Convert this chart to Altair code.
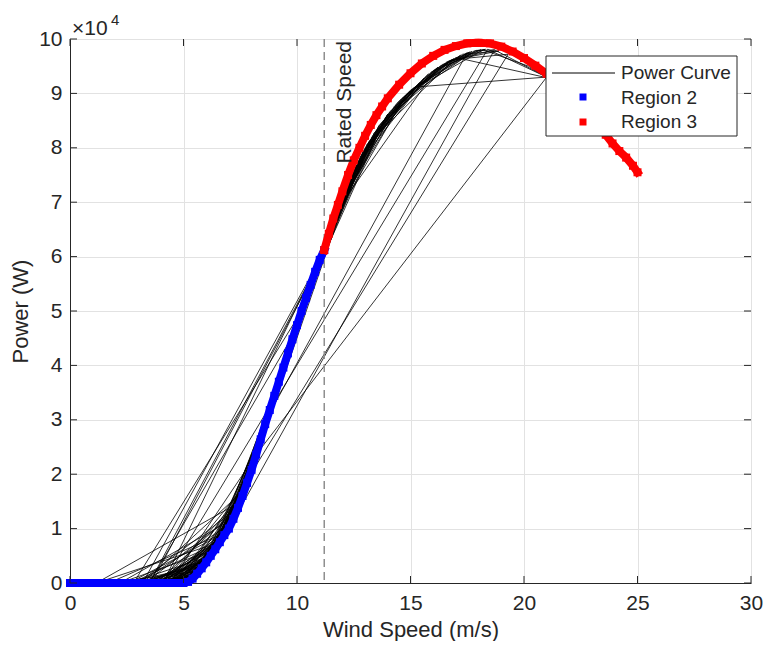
import altair as alt
import pandas as pd

# ---------------- data ----------------
x_ticks = [0, 5, 10, 15, 20, 25, 30]
y_ticks = [0, 1, 2, 3, 4, 5, 6, 7, 8, 9, 10]
rated_speed = 11.2

# Region 2 markers (wind m/s, power in 1e4 W)
r2_wind = [0.0, 0.5, 1.0, 1.5, 2.0, 2.5, 3.0, 3.5, 4.0, 4.5, 5.0, 5.2, 5.4, 5.6, 5.8,
           6.0, 6.2, 6.4, 6.6, 6.8, 7.0, 7.2, 7.4, 7.6, 7.8, 8.0, 8.2, 8.4, 8.6, 8.8,
           9.0, 9.2, 9.4, 9.6, 9.8, 10.0, 10.2, 10.4, 10.6, 10.8, 11.0, 11.2]
r2_power = [0, 0, 0, 0, 0, 0, 0, 0, 0, 0, 0, 0.02, 0.08, 0.17, 0.27,
            0.38, 0.5, 0.62, 0.75, 0.88, 1.0, 1.18, 1.38, 1.6, 1.84, 2.08, 2.36, 2.64, 2.92, 3.18,
            3.44, 3.7, 3.96, 4.22, 4.48, 4.74, 5.0, 5.24, 5.48, 5.72, 5.94, 6.12]

# Region 3 markers
r3_wind = [11.2, 11.4, 11.6, 11.8, 12.0, 12.25, 12.5, 12.75, 13.0, 13.25, 13.5, 13.75,
           14.0, 14.5, 15.0, 15.5, 16.0, 16.5, 17.0, 17.5, 18.0, 18.5, 19.0, 19.5,
           20.0, 20.5, 21.0, 21.5, 22.0, 22.5, 23.0, 23.3, 23.6, 23.9, 24.2, 24.5, 24.8, 25.0]
r3_power = [6.12, 6.42, 6.7, 6.95, 7.2, 7.5, 7.77, 8.0, 8.22, 8.42, 8.6, 8.76,
            8.91, 9.16, 9.37, 9.55, 9.69, 9.8, 9.87, 9.92, 9.93, 9.92, 9.86, 9.77,
            9.65, 9.51, 9.36, 9.18, 8.99, 8.78, 8.55, 8.4, 8.24, 8.08, 7.94, 7.82, 7.67, 7.55]

# Power curve time series (in time order)
pc_wind = [0.0, 0.7, 1.3, 2.1, 2.7, 3.4, 4.0, 4.8, 5.8, 3.9, 6.3, 4.4, 5.5, 2.9, 6.0, 7.0,
           4.7, 6.7, 5.1, 7.3, 3.3, 6.1, 4.2, 7.8, 5.9, 8.6, 6.5, 4.5, 5.7, 1.7, 6.9, 8.0,
           9.3, 7.4, 3.8, 6.6, 1.16, 7.5, 9.0, 10.4, 7.7, 3.2, 11.0, 12.4, 14.0, 11.8, 9.6,
           12.9, 15.6, 13.3, 10.8, 8.7, 17.5, 14.7, 12.1, 10.1, 8.2, 21.0, 15.3, 13.6, 11.4,
           9.8, 11.9, 16.2, 13.9, 10.6, 7.9, 19.3, 16.8, 14.4, 12.2, 9.4, 7.2, 5.3, 2.8,
           10.2, 12.8, 15.0, 17.9, 18.7, 21.1, 17.0, 13.1, 11.6, 9.1, 6.3, 4.9, 3.5, 5.6,
           7.6, 8.4, 10.9, 13.8, 16.4, 18.1, 15.9, 12.6, 10.5, 8.8, 18.4, 21.0, 20.2, 18.2,
           14.9, 12.0, 10.0, 7.0, 18.7, 16.6, 13.5, 11.3, 9.5, 6.8, 4.3, 6.2, 8.3, 10.7,
           12.3, 11.1, 9.9, 8.5, 6.4, 5.0, 3.7, 2.5, 1.5, 0.8, 0.0,
           2.3, 5.9, 3.6, 6.5, 4.6, 7.1, 3.0, 5.7, 4.1, 6.9, 2.6, 6.2, 4.9, 7.7, 5.4, 3.4,
           6.4, 8.1, 6.0, 4.4, 7.3, 9.2, 7.9, 5.6, 3.9, 6.7, 8.9, 10.3, 8.4, 6.6, 9.7, 11.5,
           13.2, 15.4, 12.7, 10.9, 12.5, 14.6, 16.9, 14.1, 11.7, 13.7, 17.2, 15.7, 13.4, 11.2,
           9.3, 7.5, 5.2, 3.1, 6.1, 8.0, 10.6, 12.9, 16.0, 18.3, 17.8, 14.3, 12.4, 10.1, 11.7,
           14.8, 17.7, 16.1, 13.0, 10.4, 8.6, 7.0, 5.8, 4.5, 2.0, 4.8, 6.8, 9.0, 11.9, 14.5,
           16.7, 18.9, 17.3, 15.2, 12.8, 10.7, 9.5, 11.5, 13.6, 15.8, 14.0, 12.2, 10.0, 8.3,
           7.2, 6.0, 5.0, 4.0, 5.5, 7.4, 9.4, 12.0, 13.4, 16.3, 17.6, 15.1, 13.1, 11.3, 9.7,
           8.1, 6.5, 4.7, 3.3, 2.4, 1.0, 0.0,
           3.6, 10.8, 8.9, 4.1, 11.1, 13.2, 9.9, 3.5, 10.9, 12.6, 7.7, 4.6, 6.3, 3.9, 7.0,
           5.5, 2.7, 6.6, 4.2, 5.9, 3.0, 7.4, 5.1, 6.9, 4.4, 8.2, 6.1, 3.7, 6.7, 5.3, 7.9,
           4.8, 6.4, 2.2, 7.2, 5.7, 8.5, 6.2, 4.0, 7.6, 9.1, 6.8, 5.4, 3.2, 6.0, 8.7, 10.1,
           7.3, 5.6, 4.3, 7.1, 9.8, 8.0, 6.5, 4.9, 3.4, 1.9, 0.9, 0.0]
pc_power = [0, 0, 0, 0, 0, 0, 0, 0, 0.27, 0, 0.56, 0, 0.12, 0, 0.38, 1.0,
            0, 0.82, 0, 1.28, 0, 0.44, 0, 1.84, 0.32, 2.92, 0.68, 0, 0.22, 0, 0.94, 2.08,
            3.83, 1.38, 0, 0.75, 0, 1.49, 3.44, 5.24, 1.72, 0, 5.94, 7.47, 8.62, 6.83, 4.22,
            7.92, 9.28, 8.2, 5.72, 3.05, 9.75, 8.94, 7.16, 4.87, 2.36, 9.3, 9.12, 8.4, 6.35,
            4.48, 6.94, 9.48, 8.56, 5.48, 1.96, 9.72, 9.62, 8.82, 7.27, 3.96, 1.18, 0.05, 0,
            5.0, 7.84, 9.06, 9.79, 9.8, 9.28, 9.66, 8.07, 6.6, 3.57, 0.56, 0, 0, 0.17,
            1.6, 2.64, 5.83, 8.5, 9.53, 9.8, 9.39, 7.66, 5.36, 3.18, 9.81, 9.3, 9.5, 9.8,
            9.02, 7.05, 4.74, 1.0, 9.8, 9.58, 8.33, 6.2, 4.09, 0.88, 0, 0.5, 2.5, 5.6,
            7.37, 6.03, 4.61, 2.78, 0.62, 0, 0, 0, 0, 0, 0,
            0, 0.32, 0, 0.68, 0, 1.09, 0, 0.22, 0, 0.94, 0, 0.5, 0, 1.72, 0.08, 0,
            0.62, 2.22, 0.38, 0, 1.28, 3.7, 1.96, 0.17, 0, 0.82, 3.31, 5.12, 2.64, 0.75, 4.35, 6.48,
            8.13, 9.2, 7.75, 5.83, 7.56, 8.9, 9.64, 8.67, 6.72, 8.45, 9.7, 9.31, 8.27, 6.12,
            3.83, 1.49, 0.02, 0, 0.44, 2.08, 5.48, 7.92, 9.42, 9.81, 9.78, 8.77, 7.47, 4.87, 6.72,
            8.98, 9.77, 9.45, 8.0, 5.24, 2.92, 1.0, 0.27, 0, 0, 0, 0.88, 3.44, 6.94, 8.86,
            9.6, 9.78, 9.72, 9.12, 7.84, 5.6, 4.09, 6.48, 8.4, 9.36, 8.62, 7.27, 4.74, 2.5,
            1.18, 0.38, 0, 0, 0.12, 1.38, 3.96, 7.05, 8.27, 9.5, 9.76, 9.09, 8.07, 6.2, 4.35,
            2.22, 0.68, 0, 0, 0, 0, 0,
            0, 5.72, 3.31, 0, 6.03, 8.13, 4.61, 0, 5.83, 7.66, 1.72, 0, 0.56, 0, 1.0,
            0.12, 0, 0.75, 0, 0.32, 0, 1.38, 0, 0.94, 0, 2.36, 0.44, 0, 0.82, 0.05, 1.96,
            0, 0.62, 0, 1.18, 0.22, 2.78, 0.5, 0, 1.6, 3.57, 0.88, 0.08, 0, 0.38, 3.05, 4.87,
            1.28, 0.17, 0, 1.09, 4.48, 2.08, 0.68, 0, 0, 0, 0, 0]

legend_labels = ["Power Curve", "Region 2", "Region 3"]

# ---------------- frames ----------------
pc_df = pd.DataFrame({"wind": pc_wind, "power": pc_power, "idx": list(range(len(pc_wind)))})
r2_df = pd.DataFrame({"wind": r2_wind, "power": r2_power})
r3_df = pd.DataFrame({"wind": r3_wind, "power": r3_power})

W, H = 681, 544
FONT = "Liberation Sans"
TXT = "#262626"

xs = alt.Scale(domain=[0, 30], nice=False, zero=False)
ys = alt.Scale(domain=[0, 10], nice=False, zero=False)

x_axis = alt.Axis(values=x_ticks, grid=True, ticks=False, labelFontSize=21, labelColor=TXT,
                  labelPadding=9, labelFlush=False, labelOverlap=False,
                  title="Wind Speed (m/s)", titleFontSize=22, titleBaseline="alphabetic",
                  titleY=53, titleFontWeight="normal", titleColor=TXT,
                  domainColor=TXT, gridColor="#e2e2e2", labelFont=FONT, titleFont=FONT)
y_axis = alt.Axis(values=y_ticks, grid=True, ticks=False, labelFontSize=21, labelColor=TXT,
                  labelPadding=8, labelFlush=False, labelOverlap=False,
                  title="Power (W)", titleFontSize=22,
                  titleFontWeight="normal", titleColor=TXT, titlePadding=6,
                  domainColor=TXT, gridColor="#e2e2e2", labelFont=FONT, titleFont=FONT)

X = alt.X("wind:Q", scale=xs, axis=x_axis)
Y = alt.Y("power:Q", scale=ys, axis=y_axis)

power_line = alt.Chart(pc_df).mark_line(color="black", strokeWidth=0.8).encode(
    x=X, y=Y, order="idx:Q")

rated_df = pd.DataFrame({"wind": [rated_speed], "label": ["Rated Speed"]})
rated_rule = alt.Chart(rated_df).mark_rule(color="#8f8f8f", strokeWidth=1.5,
                                           strokeDash=[8, 5]).encode(x=X)

rated_text = alt.Chart(rated_df).mark_text(angle=270, align="right", baseline="top",
                                           fontSize=21, font=FONT, color=TXT, dy=10).encode(
    x=X, y=alt.value(2), text="label:N")


def region(df, color):
    band = alt.Chart(df).mark_line(color=color, strokeWidth=8, strokeCap="square").encode(
        x=X, y=Y)
    pts = alt.Chart(df).mark_point(shape="square", filled=True, size=64, color=color,
                                   opacity=1).encode(x=X, y=Y)
    return band + pts


r2 = region(r2_df, "#0000ff")
r3 = region(r3_df, "#ff0000")

# inner ticks (MATLAB box style)
xt_df = pd.DataFrame({"wind": x_ticks})
yt_df = pd.DataFrame({"power": y_ticks})
tick_kw = dict(color=TXT, strokeWidth=1)
xt_bottom = alt.Chart(xt_df).mark_rule(**tick_kw).encode(
    x=X, y=alt.value(H), y2=alt.value(H - 7))
xt_top = alt.Chart(xt_df).mark_rule(**tick_kw).encode(
    x=X, y=alt.value(0), y2=alt.value(7))
yt_left = alt.Chart(yt_df).mark_rule(**tick_kw).encode(
    y=Y, x=alt.value(0), x2=alt.value(7))
yt_right = alt.Chart(yt_df).mark_rule(**tick_kw).encode(
    y=Y, x=alt.value(W), x2=alt.value(W - 7))

# exponent label
one = pd.DataFrame({"a": ["\u00d710"], "b": ["4"]})
exp_main = alt.Chart(one).mark_text(align="left", baseline="alphabetic", fontSize=21,
                                    font=FONT, color=TXT).encode(
    x=alt.value(2), y=alt.value(-4), text="a:N")
exp_sup = alt.Chart(one).mark_text(align="left", baseline="alphabetic", fontSize=15,
                                   font=FONT, color=TXT).encode(
    x=alt.value(41), y=alt.value(-14), text="b:N")

# legend (manual, MATLAB style)
LX = 476
leg_box = alt.Chart(one).mark_rect(fill="white", stroke=TXT, strokeWidth=1).encode(
    x=alt.value(LX), x2=alt.value(LX + 191), y=alt.value(17), y2=alt.value(97))
leg_line = alt.Chart(one).mark_rule(color="black", strokeWidth=1).encode(
    x=alt.value(LX + 6), x2=alt.value(LX + 69), y=alt.value(34))
leg_sq2 = alt.Chart(one).mark_point(shape="square", filled=True, size=49, color="#0000ff",
                                    opacity=1).encode(x=alt.value(LX + 37), y=alt.value(58))
leg_sq3 = alt.Chart(one).mark_point(shape="square", filled=True, size=49, color="#ff0000",
                                    opacity=1).encode(x=alt.value(LX + 37), y=alt.value(83))
leg_texts = []
for lab, yy in zip(legend_labels, [34, 58.5, 83]):
    leg_texts.append(
        alt.Chart(pd.DataFrame({"label": [lab]})).mark_text(
            align="left", baseline="middle", fontSize=19, font=FONT, color=TXT).encode(
            x=alt.value(LX + 75), y=alt.value(yy), text="label:N"))

chart = alt.layer(
    power_line, rated_rule, r2, r3, rated_text,
    xt_bottom, xt_top, yt_left, yt_right,
    exp_main, exp_sup,
    leg_box, leg_line, leg_sq2, leg_sq3, *leg_texts,
).properties(
    width=W, height=H,
    autosize=alt.AutoSizeParams(type="none"),
    padding={"left": 62, "top": 31, "right": 12, "bottom": 58},
).configure_view(stroke=TXT, strokeWidth=1).configure(background="white")

chart.save("out.html", embed_options={"renderer": "svg", "actions": False})
